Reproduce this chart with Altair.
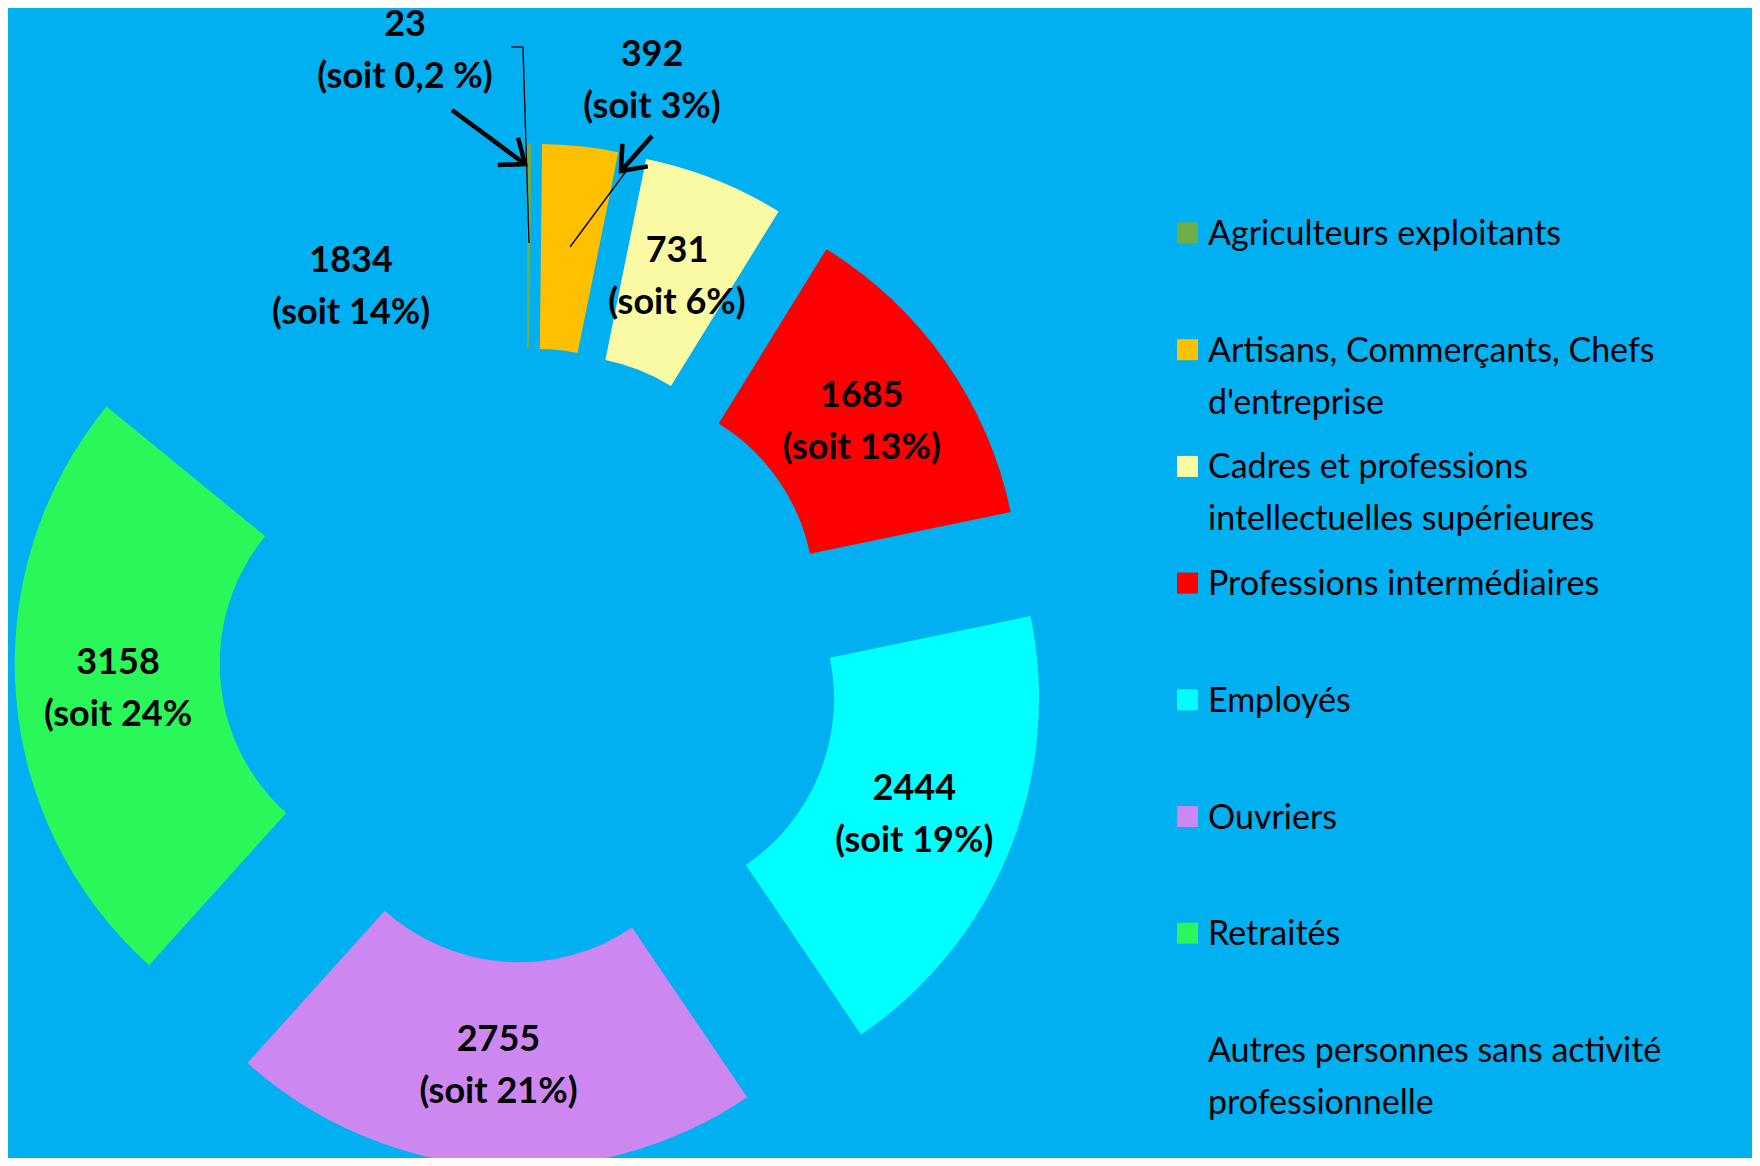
import math
import altair as alt
import pandas as pd

# ---------------- data ----------------
categories = [
    "Agriculteurs exploitants",
    "Artisans, Commerçants, Chefs d'entreprise",
    "Cadres et professions intellectuelles supérieures",
    "Professions intermédiaires",
    "Employés",
    "Ouvriers",
    "Retraités",
    "Autres personnes sans activité professionnelle",
]
values = [23, 392, 731, 1685, 2444, 2755, 3158, 1834]
slice_labels = [
    "23\n(soit 0,2 %)",
    "392\n(soit 3%)",
    "731\n(soit 6%)",
    "1685\n(soit 13%)",
    "2444\n(soit 19%)",
    "2755\n(soit 21%)",
    "3158\n(soit 24%",
    "1834\n(soit 14%)",
]
legend_labels = [
    "Agriculteurs exploitants",
    "Artisans, Commerçants, Chefs\nd'entreprise",
    "Cadres et professions\nintellectuelles supérieures",
    "Professions intermédiaires",
    "Employés",
    "Ouvriers",
    "Retraités",
    "Autres personnes sans activité\nprofessionnelle",
]
colors = ["#70AD47", "#FFC000", "#FAFAA5", "#FF0000", "#00FFFF", "#CC88F0", "#2AF85A", "#00B0F0"]

# ---------------- layout constants ----------------
BG = "#00B0F0"
OFF = 8  # page margin
W, H = 1760 - 2 * OFF, 1166 - 2 * OFF
CX, CY = 526.4 - OFF, 655.5 - OFF
EXPLODE = 106
EXPLODE_EXTRA = {"Employés": 9}
R_IN, R_OUT = 201, 406
FONT = "Lato"
LAB_FS, LAB_LH = 36, 52
LEG_FS, LEG_LH = 34, 52
BLOCK_SHIFT = 24  # Vega puts first line at y: shift two-line block up

# ---------------- table for slices ----------------
total = sum(values)
rows = []
cum = 0
for i, (c, v, lab) in enumerate(zip(categories, values, slice_labels)):
    a0 = cum / total * 2 * math.pi
    cum += v
    a1 = cum / total * 2 * math.pi
    mid = (a0 + a1) / 2
    e = EXPLODE + EXPLODE_EXTRA.get(c, 0)
    rl = e + (R_IN + R_OUT) / 2
    rows.append(dict(
        cat=c, value=v, label=lab, t0=a0, t1=a1,
        px=CX + e * math.sin(mid),
        py=CY - e * math.cos(mid),
        lx=CX + rl * math.sin(mid),
        ly=CY - rl * math.cos(mid) - BLOCK_SHIFT,
    ))
df = pd.DataFrame(rows)

# hand-placed labels for the two thin slices (as in the original)
df.loc[0, ["lx", "ly"]] = [405 - OFF, 24.5 - OFF]
df.loc[1, ["lx", "ly"]] = [652 - OFF, 54.5 - OFF]

color = alt.Color("cat:N", scale=alt.Scale(domain=categories, range=colors), legend=None)

arcs = alt.Chart(df).mark_arc(radius=R_OUT, radius2=R_IN).encode(
    theta=alt.Theta("t0:Q", scale=None),
    theta2=alt.Theta2("t1:Q"),
    x=alt.X("px:Q", scale=None, axis=None),
    y=alt.Y("py:Q", scale=None, axis=None),
    color=color,
)

labels = alt.Chart(df).mark_text(
    font=FONT, fontSize=LAB_FS, fontWeight="bold", lineHeight=LAB_LH,
    lineBreak="\n", align="center", baseline="middle", color="black",
).encode(
    x=alt.X("lx:Q", scale=None, axis=None),
    y=alt.Y("ly:Q", scale=None, axis=None),
    text="label:N",
)

# leader lines (thin) and arrows (thick)
leaders = pd.DataFrame(dict(
    x=[511, 523, 570], y=[47, 47, 247],
    x2=[523, 529, 627], y2=[47, 243, 170],
))
for c in ["x", "y", "x2", "y2"]:
    leaders[c] = leaders[c] - OFF
leader_rules = alt.Chart(leaders).mark_rule(color="black", strokeWidth=1.3).encode(
    x=alt.X("x:Q", scale=None, axis=None), y=alt.Y("y:Q", scale=None, axis=None),
    x2="x2:Q", y2="y2:Q",
)

arrows = pd.DataFrame(dict(
    x=[452, 652], y=[110, 136], x2=[525, 621], y2=[164, 171],
))
arrows["angle"] = [math.degrees(math.atan2(r.y2 - r.y, r.x2 - r.x)) for r in arrows.itertuples()]
for c in ["x", "y", "x2", "y2"]:
    arrows[c] = arrows[c] - OFF
arrow_shafts = alt.Chart(arrows).mark_rule(color="black", strokeWidth=4.5).encode(
    x=alt.X("x:Q", scale=None, axis=None), y=alt.Y("y:Q", scale=None, axis=None),
    x2="x2:Q", y2="y2:Q",
)
arrow_heads = alt.Chart(arrows).mark_point(
    shape="M -1 -0.8 L 0 0 L -1 0.8", filled=False, stroke="black",
    strokeWidth=4.5, size=1800, opacity=1,
).encode(
    x=alt.X("x2:Q", scale=None, axis=None), y=alt.Y("y2:Q", scale=None, axis=None),
    angle=alt.Angle("angle:Q", scale=None),
)

# legend drawn from the categories
LEG_X_SQ, LEG_X_TXT, LEG_Y0, LEG_STEP = 1187.5 - OFF, 1208 - OFF, 245 - OFF, 116.7
leg = pd.DataFrame(dict(cat=categories, text=legend_labels))
leg["ty"] = [LEG_Y0 + i * LEG_STEP for i in range(len(categories))]
leg["sy"] = leg["ty"] - 12
leg_sq = alt.Chart(leg).mark_square(size=441, opacity=1).encode(
    x=alt.value(LEG_X_SQ), y=alt.Y("sy:Q", scale=None, axis=None), color=color,
)
leg_txt = alt.Chart(leg).mark_text(
    font=FONT, fontSize=LEG_FS, lineHeight=LEG_LH, lineBreak="\n",
    align="left", baseline="alphabetic", color="black",
).encode(
    x=alt.value(LEG_X_TXT), y=alt.Y("ty:Q", scale=None, axis=None), text="text:N",
)

chart = alt.layer(
    arcs, labels, leader_rules, arrow_shafts, arrow_heads, leg_sq, leg_txt
).properties(
    width=W, height=H, padding=0, autosize=alt.AutoSizeParams(type="none"),
    background=BG,
).configure_view(stroke=None)

chart.save("out.html", embed_options={"renderer": "svg", "actions": False})
